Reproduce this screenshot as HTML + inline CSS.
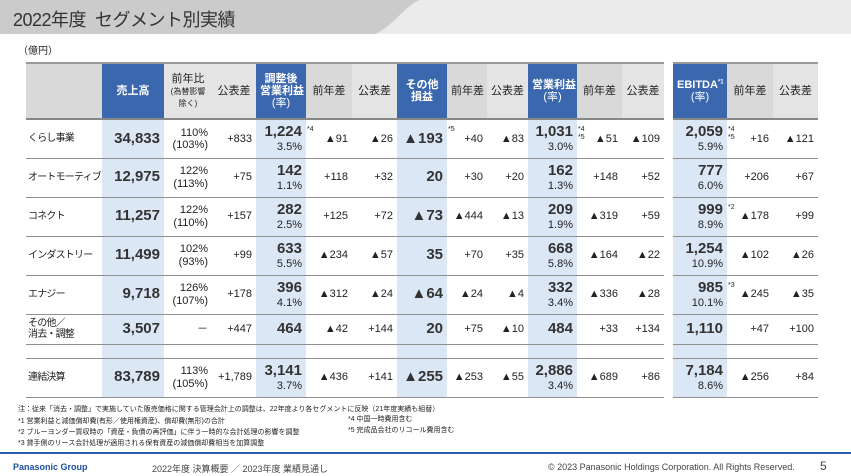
<!DOCTYPE html>
<html><head><meta charset="utf-8"><style>
*{margin:0;padding:0;box-sizing:border-box}
body{width:851px;height:476px;overflow:hidden;background:#fff;font-family:"Liberation Sans","Noto Sans CJK JP",sans-serif;color:#222;position:relative}
.tb{position:absolute;left:0;top:0;width:851px;height:34px;background:#ebebeb}
.title{position:absolute;left:13px;top:6px;font-size:18px;color:#333;letter-spacing:-0.5px}
.unit{position:absolute;left:18px;top:42px;font-size:10px}
table{position:absolute;left:26px;top:62px;width:792px;border-collapse:collapse;table-layout:fixed}
td{padding:0 4px;font-size:11px;text-align:right;border-bottom:1.5px solid #8f8f8f;position:relative;white-space:nowrap;line-height:1.1;overflow:visible}
tr.h td{height:56px;background:#d9d9d9;text-align:center;font-size:11px;border-top:2.5px solid #999;border-bottom:2px solid #888}
tr.h td.b{background:#3a67ae;color:#fff;font-weight:bold}
tr.h td.l{background:#e4e4e4}
td.g{border:none!important;background:#fff!important}
tr.r td{height:39px}
tr.o td{height:30px}
td.bl{background:#dce7f6}
td.n{text-align:left;font-size:10px;letter-spacing:-0.8px;padding-left:2px;padding-right:0}
.v{font-size:15px;font-weight:bold;color:#333}
.s{position:absolute;left:1px;top:6px;font-size:7px;line-height:1.1;text-align:left}
.note{position:absolute;left:30px;font-size:7px;color:#222}
.foot{position:absolute;top:462px;font-size:9px;color:#444}
</style></head><body>
<div class="tb"></div>
<svg style="position:absolute;left:0;top:0" width="851" height="34"><path d="M0 0 H420 C405 5 395 25 375 34 H0Z" fill="#cbcbcb"/></svg>
<div class="title">2022年度&nbsp; セグメント別実績</div>
<div class="unit">（億円）</div>
<table>
<colgroup><col style="width:76px"><col style="width:62px"><col style="width:48px"><col style="width:44px"><col style="width:50px"><col style="width:46px"><col style="width:45px"><col style="width:50px"><col style="width:40px"><col style="width:41px"><col style="width:49px"><col style="width:45px"><col style="width:42px"><col style="width:9px"><col style="width:54px"><col style="width:46px"><col style="width:45px"></colgroup>
<tr class="h"><td></td><td class="b">売上高</td><td class="l">前年比<br><span style="font-size:8px">(為替影響<br>除く)</span></td><td class="l">公表差</td><td class="b">調整後<br>営業利益<br><span style="font-weight:normal">(率)</span></td><td>前年差</td><td class="l">公表差</td><td class="b">その他<br>損益</td><td>前年差</td><td class="l">公表差</td><td class="b">営業利益<br><span style="font-weight:normal">(率)</span></td><td>前年差</td><td class="l">公表差</td><td class="g"></td><td class="b">EBITDA<sup style="font-size:6px">*1</sup><br><span style="font-weight:normal">(率)</span></td><td>前年差</td><td class="l">公表差</td></tr>
<tr class="r"><td class="n">くらし事業</td><td class="bl v">34,833</td><td>110%<br>(103%)</td><td>+833</td><td class="bl"><span class="v">1,224</span><br>3.5%</td><td><span class="s">*4</span>▲91</td><td>▲26</td><td class="bl v">▲193</td><td><span class="s">*5</span>+40</td><td>▲83</td><td class="bl"><span class="v">1,031</span><br>3.0%</td><td><span class="s">*4<br>*5</span>▲51</td><td>▲109</td><td class="g"></td><td class="bl"><span class="v">2,059</span><br>5.9%</td><td><span class="s">*4<br>*5</span>+16</td><td>▲121</td></tr>
<tr class="r"><td class="n">オートモーティブ</td><td class="bl v">12,975</td><td>122%<br>(113%)</td><td>+75</td><td class="bl"><span class="v">142</span><br>1.1%</td><td>+118</td><td>+32</td><td class="bl v">20</td><td>+30</td><td>+20</td><td class="bl"><span class="v">162</span><br>1.3%</td><td>+148</td><td>+52</td><td class="g"></td><td class="bl"><span class="v">777</span><br>6.0%</td><td>+206</td><td>+67</td></tr>
<tr class="r"><td class="n">コネクト</td><td class="bl v">11,257</td><td>122%<br>(110%)</td><td>+157</td><td class="bl"><span class="v">282</span><br>2.5%</td><td>+125</td><td>+72</td><td class="bl v">▲73</td><td>▲444</td><td>▲13</td><td class="bl"><span class="v">209</span><br>1.9%</td><td>▲319</td><td>+59</td><td class="g"></td><td class="bl"><span class="v">999</span><br>8.9%</td><td><span class="s">*2</span>▲178</td><td>+99</td></tr>
<tr class="r"><td class="n">インダストリー</td><td class="bl v">11,499</td><td>102%<br>(93%)</td><td>+99</td><td class="bl"><span class="v">633</span><br>5.5%</td><td>▲234</td><td>▲57</td><td class="bl v">35</td><td>+70</td><td>+35</td><td class="bl"><span class="v">668</span><br>5.8%</td><td>▲164</td><td>▲22</td><td class="g"></td><td class="bl"><span class="v">1,254</span><br>10.9%</td><td>▲102</td><td>▲26</td></tr>
<tr class="r"><td class="n">エナジー</td><td class="bl v">9,718</td><td>126%<br>(107%)</td><td>+178</td><td class="bl"><span class="v">396</span><br>4.1%</td><td>▲312</td><td>▲24</td><td class="bl v">▲64</td><td>▲24</td><td>▲4</td><td class="bl"><span class="v">332</span><br>3.4%</td><td>▲336</td><td>▲28</td><td class="g"></td><td class="bl"><span class="v">985</span><br>10.1%</td><td><span class="s">*3</span>▲245</td><td>▲35</td></tr>
<tr class="o"><td class="n">その他／<br>消去・調整</td><td class="bl v">3,507</td><td>－</td><td>+447</td><td class="bl v">464</td><td>▲42</td><td>+144</td><td class="bl v">20</td><td>+75</td><td>▲10</td><td class="bl v">484</td><td>+33</td><td>+134</td><td class="g"></td><td class="bl v">1,110</td><td>+47</td><td>+100</td></tr>
<tr><td style="height:14px"></td><td class="bl"></td><td></td><td></td><td class="bl"></td><td></td><td></td><td class="bl"></td><td></td><td></td><td class="bl"></td><td></td><td></td><td class="g"></td><td class="bl"></td><td></td><td></td></tr>
<tr class="r"><td class="n">連結決算</td><td class="bl v">83,789</td><td>113%<br>(105%)</td><td>+1,789</td><td class="bl"><span class="v">3,141</span><br>3.7%</td><td>▲436</td><td>+141</td><td class="bl v">▲255</td><td>▲253</td><td>▲55</td><td class="bl"><span class="v">2,886</span><br>3.4%</td><td>▲689</td><td>+86</td><td class="g"></td><td class="bl"><span class="v">7,184</span><br>8.6%</td><td>▲256</td><td>+84</td></tr>
</table>
<div class="note" style="top:404px;left:18px">注：従来「消去・調整」で実施していた販売価格に関する管理会計上の調整は、22年度より各セグメントに反映（21年度実績も組替）</div>
<div class="note" style="top:416px;left:18px">*1 営業利益と減価償却費(有形／使用権資産)、償却費(無形)の合計</div>
<div class="note" style="top:427px;left:18px">*2 ブルーヨンダー買収時の「資産・負債の再評価」に伴う一時的な会計処理の影響を調整</div>
<div class="note" style="top:438px;left:18px">*3 貸手側のリース会計処理が適用される保有資産の減価償却費相当を加算調整</div>
<div class="note" style="top:414px;left:348px">*4 中国一時費用含む</div>
<div class="note" style="top:425px;left:348px">*5 完成品会社のリコール費用含む</div>
<div style="position:absolute;left:0;top:452px;width:851px;height:2px;background:#2b5fae"></div>
<div class="foot" style="left:13px;color:#1d4fa0;font-weight:bold">Panasonic Group</div>
<div class="foot" style="left:152px">2022年度 決算概要 ／ 2023年度 業績見通し</div>
<div class="foot" style="left:548px">© 2023 Panasonic Holdings Corporation. All Rights Reserved.</div>
<div class="foot" style="left:820px;font-size:12px;top:459px">5</div>
</body></html>
